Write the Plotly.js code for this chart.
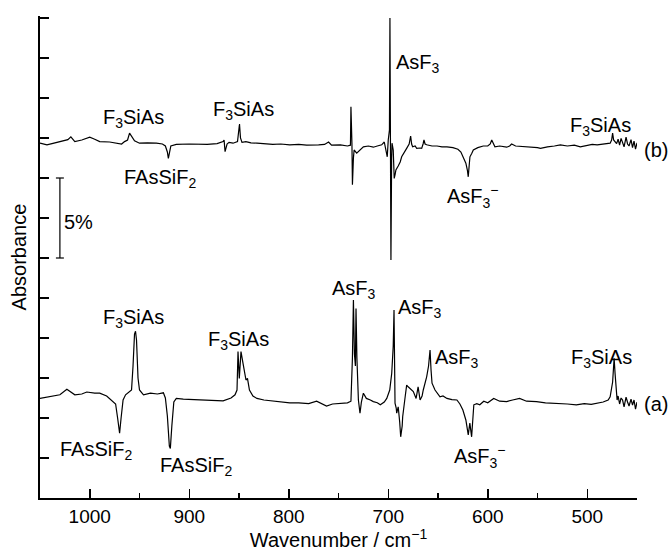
<!DOCTYPE html>
<html>
<head>
<meta charset="utf-8">
<script src="https://cdn.plot.ly/plotly-3.0.1.min.js"></script>
<style>html,body{margin:0;padding:0;background:#fff;}#chart{width:669px;height:551px;}</style>
</head>
<body>
<div id="chart"></div>
<script>
// ---- Spectrum (a) : wavenumber (cm-1) and absorbance (offset units) ----
const waveA = [1050,1040,1030,1023,1015,1008,1003,995,990,983,977,974,972,970,968.5,966.5,964,958,956.5,955,954,953,951.5,950,946,939,932,926,924,922,920,919,917.5,915.5,913,906,895,882,866,858,854,852,851,849.7,848,846,844,843,841.5,839.5,836,832,825,816,808,799,790,780,772,766,762,756,748,741,737.5,736,735,734,733,732.4,731.5,730,728.4,727,725,722,718,715,711,708,704,701.5,698.5,696.5,695,694.2,693.2,692,691.5,690,688.5,687.5,686,685.5,683,681.5,680,678,676,674.8,672,670,668,666,664.8,661.4,659.5,658,657,656,653,648,645,641,636,631,628,625,622,619.6,618,616.2,614,611,608,604,600,594,588,581,575,568,561,551,542,531,520,511,503,496,490,484,479,477,474.5,473,472,471,470,469,467.5,466,464.5,463,461,459.5,458,456,454.5,453,451.5,450];
const absA = [2.49,2.53,2.58,2.72,2.58,2.6,2.65,2.62,2.62,2.55,2.41,2.35,2.0,1.62,2.0,2.45,2.58,2.7,3.3,4.1,4.17,3.95,3.0,2.7,2.58,2.62,2.6,2.63,2.5,2.05,1.3,1.24,1.8,2.4,2.49,2.47,2.46,2.45,2.43,2.5,2.58,2.7,3.66,2.99,3.66,3.37,3.0,2.95,2.99,2.7,2.55,2.49,2.45,2.42,2.4,2.38,2.38,2.36,2.42,2.35,2.3,2.35,2.37,2.38,2.42,3.5,4.95,3.6,3.3,4.74,3.5,2.45,2.12,2.4,2.62,2.49,2.45,2.41,2.38,2.33,2.4,2.49,2.7,3.12,3.8,4.7,2.37,2.25,2.12,2.28,1.9,1.53,1.8,2.03,2.53,2.82,2.78,2.74,2.7,2.66,2.49,2.78,2.45,2.55,2.7,3.03,3.3,3.7,3.2,2.87,2.7,2.53,2.55,2.49,2.46,2.45,2.35,2.2,1.95,1.58,1.87,1.53,2.33,2.36,2.33,2.42,2.38,2.49,2.42,2.41,2.45,2.49,2.42,2.41,2.38,2.37,2.35,2.33,2.36,2.34,2.37,2.4,2.45,2.53,2.9,3.49,3.1,2.6,2.45,2.55,2.35,2.5,2.45,2.28,2.52,2.4,2.3,2.47,2.32,2.45,2.22,2.4,2.3];

// ---- Spectrum (b) ----
const waveB = [1050,1043,1035,1027,1022,1019,1015,1008,1000,995,990,980,973,968,965,962,960,958,955,950,942,933,927,924,922,921,919.5,918.5,913,900,882,872,866,865,864,862,860,856,851.5,850.5,849.5,848.5,847,843,838,832,825,816,808,799,790,782,770,764,760,757,748,741,738,737.5,736.5,736,735,734.3,731.7,728,725,720,715,711,706.6,704,703,701,700,698.8,698.3,697.7,697.3,696.6,696.2,695,694,693,692.3,690,688,686.5,684,681.5,679,677.5,676.5,675.5,673,671.4,668,666.4,665,664.1,663,661.4,656,651,646,641,635,630,627,624.6,622,620.5,619.6,618.7,617.9,616,614.5,610,604.5,600,597.5,596,594.5,592.8,588,581,578,576,572,565,557,550,547,540,533,527,520,513,507,500,495,490,484,480,477,475.5,474.5,473.5,472,470.5,469,467.5,466,464.5,463,461,459.5,458,456,454.5,453,451.5,450];
const absB = [8.87,8.83,8.88,8.93,8.96,9.03,8.91,8.95,9.02,8.97,8.91,8.9,8.87,8.85,8.91,8.95,9.12,9.05,8.93,8.87,8.88,8.87,8.85,8.8,8.65,8.49,8.7,8.8,8.84,8.85,8.84,8.86,8.91,8.95,8.66,8.85,8.89,8.87,8.91,9.1,9.35,9.0,8.89,8.91,8.88,8.87,8.86,8.84,8.85,8.83,8.84,8.82,8.83,8.84,8.9,8.82,8.83,8.8,8.82,9.78,8.87,7.83,8.5,8.7,8.62,8.7,8.78,8.8,8.77,8.8,8.83,8.9,8.8,8.53,8.95,9.2,12.0,9.0,5.95,8.5,8.87,8.7,7.99,8.1,8.2,8.3,8.4,8.53,8.62,8.74,8.85,9.05,8.85,8.78,8.8,8.74,8.75,8.74,8.85,8.95,8.85,8.83,8.8,8.8,8.78,8.78,8.76,8.72,8.65,8.53,8.37,8.2,8.03,8.3,8.53,8.62,8.7,8.76,8.8,8.8,8.85,8.95,8.85,8.78,8.8,8.77,8.8,8.85,8.8,8.79,8.78,8.76,8.74,8.78,8.8,8.83,8.8,8.82,8.78,8.82,8.84,8.83,8.85,8.86,8.87,8.95,9.12,8.95,8.9,8.86,8.97,8.82,8.99,8.9,8.78,9.02,8.85,8.8,8.96,8.76,8.92,8.72,8.88,8.78];

// ---- Axis ticks ----
const xTickVals = [1000,900,800,700,600,500];
const xTickText = ['1000','900','800','700','600','500'];
const yTickVals = [0,1,2,3,4,5,6,7,8,9,10,11,12];

// ---- 5% scale bar (wavenumber position, absorbance limits) ----
const scaleBarX = 1030;
const scaleBarY = [6, 8];
const scaleBarCap = 4;

// ---- Band labels (inside plot): text, wavenumber, y ----
const labelText = ['F<sub>3</sub>SiAs','F<sub>3</sub>SiAs','FAsSiF<sub>2</sub>','AsF<sub>3</sub>','AsF<sub>3</sub><sup>−</sup>','F<sub>3</sub>SiAs',
                   'F<sub>3</sub>SiAs','F<sub>3</sub>SiAs','FAsSiF<sub>2</sub>','FAsSiF<sub>2</sub>','AsF<sub>3</sub>','AsF<sub>3</sub>','AsF<sub>3</sub>','AsF<sub>3</sub><sup>−</sup>','F<sub>3</sub>SiAs','5%'];
const labelX = [956.5,845,929.4,670,614.8,486.2, 956.5,851,993.7,893.2,734.4,668.1,631,607.8,485.2,1011.8];
const labelY = [9.5,9.7,8.0,10.875,7.53,9.3, 4.5,3.93,1.18,0.8,5.22,4.75,3.5,1.03,3.5,6.9];

// ---- Trace tags to the right of the plot: text, paper x, y ----
const tagText = ['(b)', '(a)'];
const tagPaperX = [1.032, 1.032];
const tagY = [8.7, 2.35];

const FONT = 'Liberation Sans, Arial, Helvetica, sans-serif';

const traces = [
  {x: waveA, y: absA, type: 'scatter', mode: 'lines', line: {color: '#000', width: 1.2}, hoverinfo: 'skip', name: '(a)'},
  {x: waveB, y: absB, type: 'scatter', mode: 'lines', line: {color: '#000', width: 1.2}, hoverinfo: 'skip', name: '(b)'}
];

const annotations = labelText.map((t, i) => ({
  text: t, x: labelX[i], y: labelY[i], xref: 'x', yref: 'y',
  showarrow: false, xanchor: 'center', yanchor: 'middle',
  font: {family: FONT, size: 20, color: '#000'}
})).concat(tagText.map((t, i) => ({
  text: t, x: tagPaperX[i], y: tagY[i], xref: 'paper', yref: 'y',
  showarrow: false, xanchor: 'center', yanchor: 'middle',
  font: {family: FONT, size: 20, color: '#000'}
})));

const shapes = [
  {type: 'line', xref: 'x', yref: 'y', x0: scaleBarX, x1: scaleBarX, y0: scaleBarY[0], y1: scaleBarY[1], line: {color: '#000', width: 1.2}},
  {type: 'line', xref: 'x', yref: 'y', x0: scaleBarX + scaleBarCap, x1: scaleBarX - scaleBarCap, y0: scaleBarY[0], y1: scaleBarY[0], line: {color: '#000', width: 1.2}},
  {type: 'line', xref: 'x', yref: 'y', x0: scaleBarX + scaleBarCap, x1: scaleBarX - scaleBarCap, y0: scaleBarY[1], y1: scaleBarY[1], line: {color: '#000', width: 1.2}}
];

const layout = {
  width: 669, height: 551,
  margin: {l: 40, r: 32, t: 16, b: 53, pad: 0},
  paper_bgcolor: '#fff', plot_bgcolor: '#fff',
  showlegend: false,
  font: {family: FONT, size: 19, color: '#000'},
  xaxis: {
    range: [1050, 450], tickmode: 'array', tickvals: xTickVals, ticktext: xTickText,
    ticks: 'inside', ticklen: 9, tickwidth: 1.5, tickcolor: '#000',
    minor: {ticks: 'inside', ticklen: 5, tickwidth: 1.5, tickcolor: '#000', dtick: 50, tick0: 0, showgrid: false},
    showline: true, linecolor: '#000', linewidth: 2, mirror: false,
    showgrid: false, zeroline: false,
    tickfont: {family: FONT, size: 19, color: '#000'},
    title: {text: 'Wavenumber / cm<sup>−1</sup>', font: {family: FONT, size: 20, color: '#000'}, standoff: 4}
  },
  yaxis: {
    range: [0, 12.05], tickmode: 'array', tickvals: yTickVals, showticklabels: false,
    ticks: 'inside', ticklen: 9, tickwidth: 1.5, tickcolor: '#000',
    showline: true, linecolor: '#000', linewidth: 2, mirror: false,
    showgrid: false, zeroline: false,
    title: {text: 'Absorbance', font: {family: FONT, size: 20, color: '#000'}, standoff: 6}
  },
  annotations: annotations,
  shapes: shapes
};

Plotly.newPlot('chart', traces, layout, {staticPlot: true, displayModeBar: false});
</script>
</body>
</html>
